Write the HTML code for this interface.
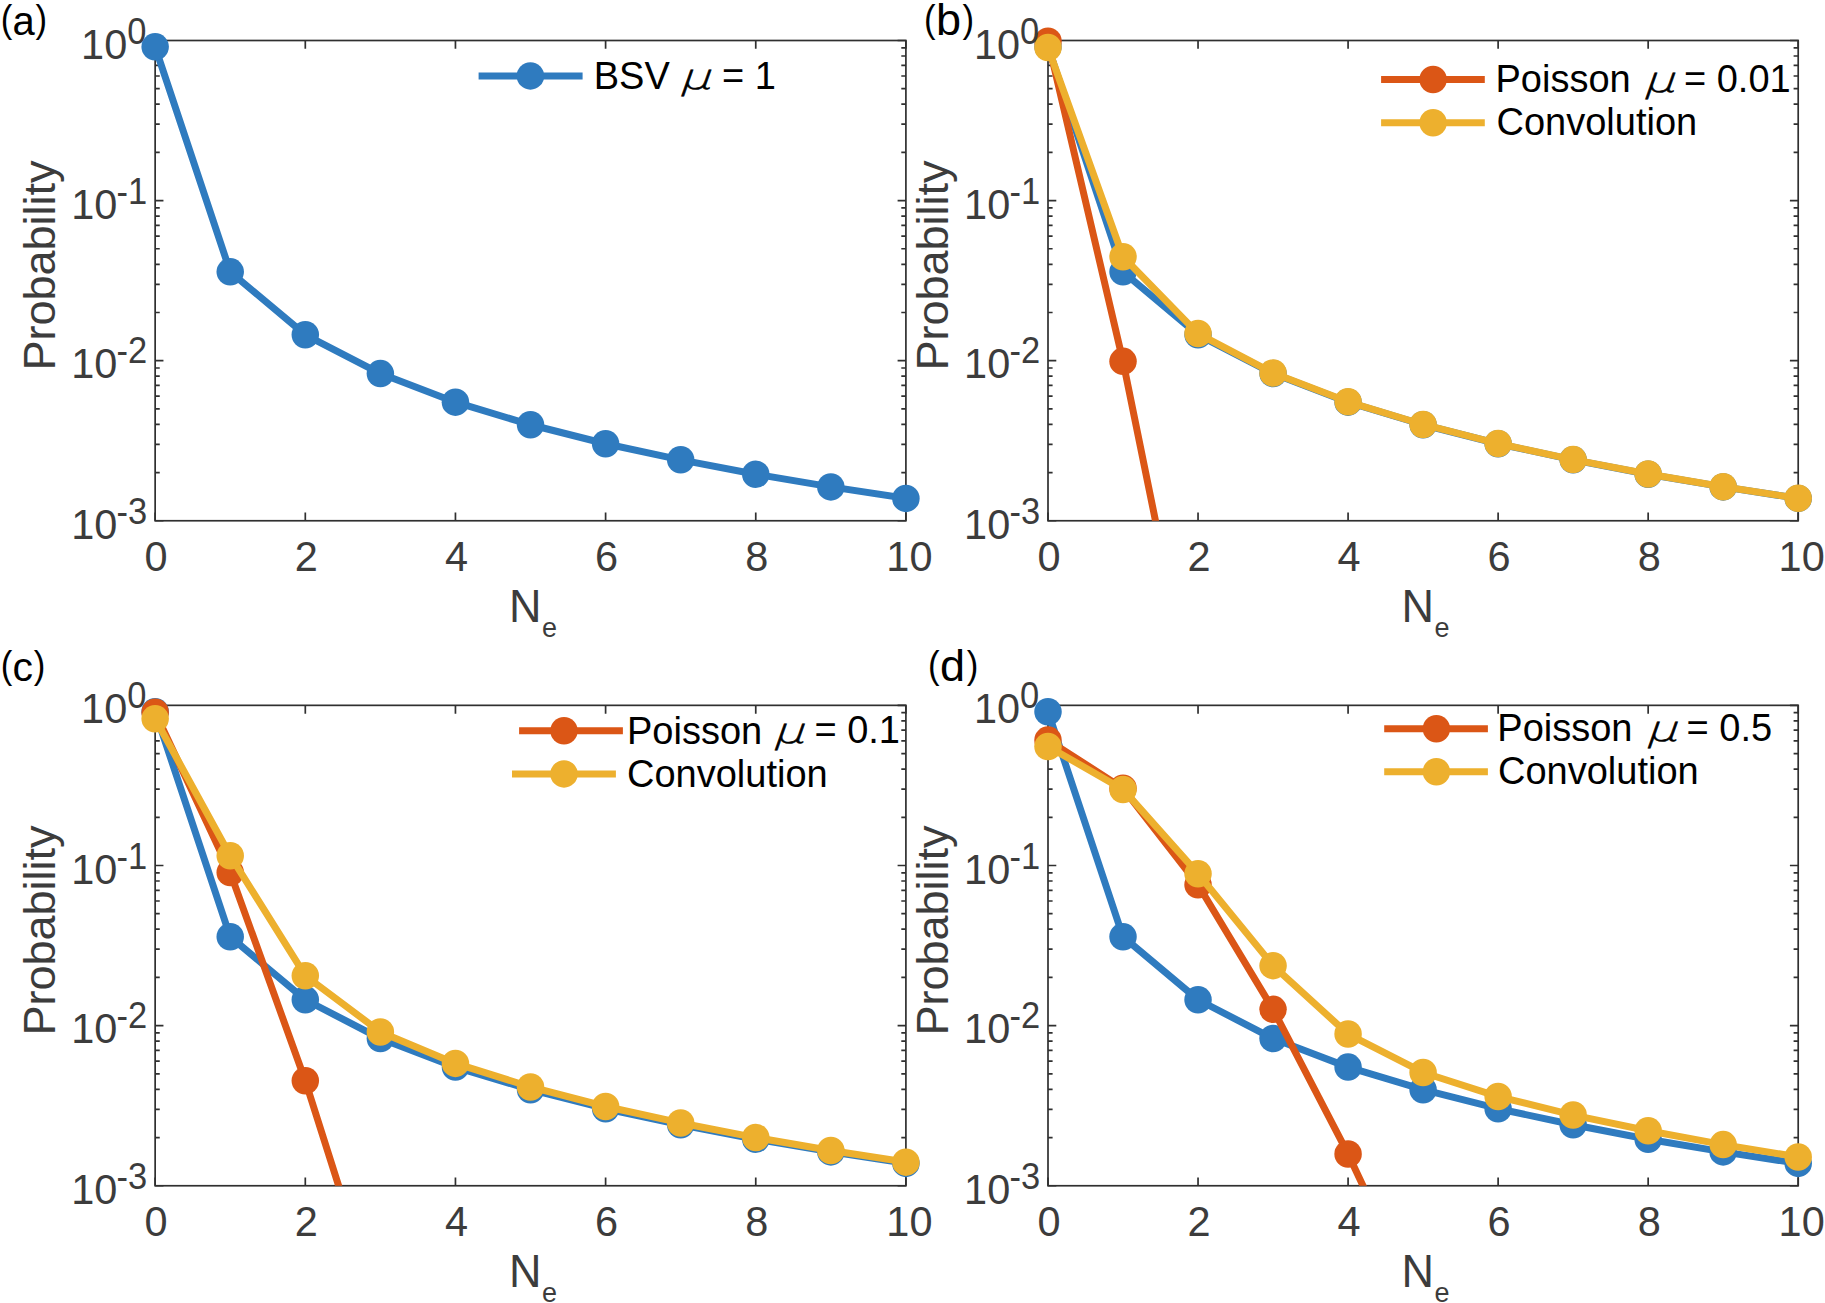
<!DOCTYPE html>
<html><head><meta charset="utf-8"><title>Figure</title>
<style>html,body{margin:0;padding:0;background:#fff}svg{display:block}</style></head>
<body>
<svg width="1825" height="1303" viewBox="0 0 1825 1303">
<rect width="1825" height="1303" fill="#fff"/>
<defs>
<clipPath id="cpa"><rect x="155.15" y="40.5" width="750.75" height="480.25"/></clipPath>
<clipPath id="cpb"><rect x="1048.0" y="40.5" width="750.2" height="480.25"/></clipPath>
<clipPath id="cpc"><rect x="155.15" y="705.35" width="750.75" height="480.4"/></clipPath>
<clipPath id="cpd"><rect x="1048.0" y="705.35" width="750.2" height="480.4"/></clipPath>
</defs>
<g stroke="#303030" stroke-width="1.7" fill="none">
<rect x="155.15" y="40.50" width="750.75" height="480.25"/>
<path d="M155.15 520.75v-8.3M155.15 40.50v8.3M305.30 520.75v-8.3M305.30 40.50v8.3M455.45 520.75v-8.3M455.45 40.50v8.3M605.60 520.75v-8.3M605.60 40.50v8.3M755.75 520.75v-8.3M755.75 40.50v8.3M905.90 520.75v-8.3M905.90 40.50v8.3M155.15 40.50h8.3M905.90 40.50h-8.3M155.15 152.39h4.6M905.90 152.39h-4.6M155.15 124.20h4.6M905.90 124.20h-4.6M155.15 104.20h4.6M905.90 104.20h-4.6M155.15 88.69h4.6M905.90 88.69h-4.6M155.15 76.01h4.6M905.90 76.01h-4.6M155.15 65.30h4.6M905.90 65.30h-4.6M155.15 56.01h4.6M905.90 56.01h-4.6M155.15 47.83h4.6M905.90 47.83h-4.6M155.15 200.58h8.3M905.90 200.58h-8.3M155.15 312.48h4.6M905.90 312.48h-4.6M155.15 284.29h4.6M905.90 284.29h-4.6M155.15 264.29h4.6M905.90 264.29h-4.6M155.15 248.77h4.6M905.90 248.77h-4.6M155.15 236.10h4.6M905.90 236.10h-4.6M155.15 225.38h4.6M905.90 225.38h-4.6M155.15 216.10h4.6M905.90 216.10h-4.6M155.15 207.91h4.6M905.90 207.91h-4.6M155.15 360.67h8.3M905.90 360.67h-8.3M155.15 472.56h4.6M905.90 472.56h-4.6M155.15 444.37h4.6M905.90 444.37h-4.6M155.15 424.37h4.6M905.90 424.37h-4.6M155.15 408.86h4.6M905.90 408.86h-4.6M155.15 396.18h4.6M905.90 396.18h-4.6M155.15 385.46h4.6M905.90 385.46h-4.6M155.15 376.18h4.6M905.90 376.18h-4.6M155.15 367.99h4.6M905.90 367.99h-4.6M155.15 520.75h8.3M905.90 520.75h-8.3"/>
</g>
<polyline clip-path="url(#cpa)" points="155.15,46.85 230.23,271.85 305.30,334.80 380.38,373.60 455.45,402.15 530.52,424.75 605.60,443.75 680.67,459.80 755.75,474.20 830.83,486.90 905.90,498.40" fill="none" stroke="#2f7bbf" stroke-width="7.0" stroke-linejoin="round"/>
<circle cx="155.15" cy="46.85" r="13.75" fill="#2f7bbf"/>
<circle cx="230.23" cy="271.85" r="13.75" fill="#2f7bbf"/>
<circle cx="305.30" cy="334.80" r="13.75" fill="#2f7bbf"/>
<circle cx="380.38" cy="373.60" r="13.75" fill="#2f7bbf"/>
<circle cx="455.45" cy="402.15" r="13.75" fill="#2f7bbf"/>
<circle cx="530.52" cy="424.75" r="13.75" fill="#2f7bbf"/>
<circle cx="605.60" cy="443.75" r="13.75" fill="#2f7bbf"/>
<circle cx="680.67" cy="459.80" r="13.75" fill="#2f7bbf"/>
<circle cx="755.75" cy="474.20" r="13.75" fill="#2f7bbf"/>
<circle cx="830.83" cy="486.90" r="13.75" fill="#2f7bbf"/>
<circle cx="905.90" cy="498.40" r="13.75" fill="#2f7bbf"/>
<g font-family="Liberation Sans, Arial, sans-serif" fill="#3c3c3c">
<text transform="translate(156.15,571.40) scale(1,1.045)" font-size="41.5" text-anchor="middle">0</text>
<text transform="translate(306.30,571.40) scale(1,1.045)" font-size="41.5" text-anchor="middle">2</text>
<text transform="translate(456.45,571.40) scale(1,1.045)" font-size="41.5" text-anchor="middle">4</text>
<text transform="translate(606.60,571.40) scale(1,1.045)" font-size="41.5" text-anchor="middle">6</text>
<text transform="translate(756.75,571.40) scale(1,1.045)" font-size="41.5" text-anchor="middle">8</text>
<text transform="translate(909.40,571.40) scale(1,1.045)" font-size="41.5" text-anchor="middle">10</text>
<text transform="translate(146.45,58.60) scale(1,1.045)" font-size="41.5" text-anchor="end">10<tspan font-size="34.5" dy="-14.45" dx="0">0</tspan></text>
<text transform="translate(147.25,219.28) scale(1,1.045)" font-size="41.5" text-anchor="end">10<tspan font-size="34.5" dy="-14.45" dx="-0.8">-1</tspan></text>
<text transform="translate(147.25,377.57) scale(1,1.045)" font-size="41.5" text-anchor="end">10<tspan font-size="34.5" dy="-13.68" dx="-0.8">-2</tspan></text>
<text transform="translate(147.25,539.45) scale(1,1.045)" font-size="41.5" text-anchor="end">10<tspan font-size="34.5" dy="-14.45" dx="-0.8">-3</tspan></text>
<text transform="translate(509.02,621.80) scale(1,1.045)" font-size="45">N<tspan font-size="27" dy="14.07" dx="0.5">e</tspan></text>
<text transform="translate(55.45,265.52) rotate(-90)" font-size="45" text-anchor="middle">Probability</text>
</g>
<g stroke="#303030" stroke-width="1.7" fill="none">
<rect x="1048.00" y="40.50" width="750.20" height="480.25"/>
<path d="M1048.00 520.75v-8.3M1048.00 40.50v8.3M1198.04 520.75v-8.3M1198.04 40.50v8.3M1348.08 520.75v-8.3M1348.08 40.50v8.3M1498.12 520.75v-8.3M1498.12 40.50v8.3M1648.16 520.75v-8.3M1648.16 40.50v8.3M1798.20 520.75v-8.3M1798.20 40.50v8.3M1048.00 40.50h8.3M1798.20 40.50h-8.3M1048.00 152.39h4.6M1798.20 152.39h-4.6M1048.00 124.20h4.6M1798.20 124.20h-4.6M1048.00 104.20h4.6M1798.20 104.20h-4.6M1048.00 88.69h4.6M1798.20 88.69h-4.6M1048.00 76.01h4.6M1798.20 76.01h-4.6M1048.00 65.30h4.6M1798.20 65.30h-4.6M1048.00 56.01h4.6M1798.20 56.01h-4.6M1048.00 47.83h4.6M1798.20 47.83h-4.6M1048.00 200.58h8.3M1798.20 200.58h-8.3M1048.00 312.48h4.6M1798.20 312.48h-4.6M1048.00 284.29h4.6M1798.20 284.29h-4.6M1048.00 264.29h4.6M1798.20 264.29h-4.6M1048.00 248.77h4.6M1798.20 248.77h-4.6M1048.00 236.10h4.6M1798.20 236.10h-4.6M1048.00 225.38h4.6M1798.20 225.38h-4.6M1048.00 216.10h4.6M1798.20 216.10h-4.6M1048.00 207.91h4.6M1798.20 207.91h-4.6M1048.00 360.67h8.3M1798.20 360.67h-8.3M1048.00 472.56h4.6M1798.20 472.56h-4.6M1048.00 444.37h4.6M1798.20 444.37h-4.6M1048.00 424.37h4.6M1798.20 424.37h-4.6M1048.00 408.86h4.6M1798.20 408.86h-4.6M1048.00 396.18h4.6M1798.20 396.18h-4.6M1048.00 385.46h4.6M1798.20 385.46h-4.6M1048.00 376.18h4.6M1798.20 376.18h-4.6M1048.00 367.99h4.6M1798.20 367.99h-4.6M1048.00 520.75h8.3M1798.20 520.75h-8.3"/>
</g>
<polyline clip-path="url(#cpb)" points="1048.00,46.85 1123.02,271.85 1198.04,334.80 1273.06,373.60 1348.08,402.15 1423.10,424.75 1498.12,443.75 1573.14,459.80 1648.16,474.20 1723.18,486.90 1798.20,498.40" fill="none" stroke="#2f7bbf" stroke-width="7.0" stroke-linejoin="round"/>
<circle cx="1048.00" cy="46.85" r="13.75" fill="#2f7bbf"/>
<circle cx="1123.02" cy="271.85" r="13.75" fill="#2f7bbf"/>
<circle cx="1198.04" cy="334.80" r="13.75" fill="#2f7bbf"/>
<circle cx="1273.06" cy="373.60" r="13.75" fill="#2f7bbf"/>
<circle cx="1348.08" cy="402.15" r="13.75" fill="#2f7bbf"/>
<circle cx="1423.10" cy="424.75" r="13.75" fill="#2f7bbf"/>
<circle cx="1498.12" cy="443.75" r="13.75" fill="#2f7bbf"/>
<circle cx="1573.14" cy="459.80" r="13.75" fill="#2f7bbf"/>
<circle cx="1648.16" cy="474.20" r="13.75" fill="#2f7bbf"/>
<circle cx="1723.18" cy="486.90" r="13.75" fill="#2f7bbf"/>
<circle cx="1798.20" cy="498.40" r="13.75" fill="#2f7bbf"/>
<polyline clip-path="url(#cpb)" points="1048.00,41.20 1123.02,361.36 1198.04,729.72 1273.06,1126.26 1348.08,1481.25 1423.10,1481.25 1498.12,1481.25 1573.14,1481.25 1648.16,1481.25 1723.18,1481.25 1798.20,1481.25" fill="none" stroke="#db5616" stroke-width="7.0" stroke-linejoin="round"/>
<circle cx="1048.00" cy="41.20" r="13.75" fill="#db5616"/>
<circle cx="1123.02" cy="361.36" r="13.75" fill="#db5616"/>
<polyline clip-path="url(#cpb)" points="1048.00,47.55 1123.02,256.79 1198.04,333.58 1273.06,373.07 1348.08,401.80 1423.10,424.48 1498.12,443.53 1573.14,459.62 1648.16,474.04 1723.18,486.76 1798.20,498.27" fill="none" stroke="#edb02e" stroke-width="7.0" stroke-linejoin="round"/>
<circle cx="1048.00" cy="47.55" r="13.75" fill="#edb02e"/>
<circle cx="1123.02" cy="256.79" r="13.75" fill="#edb02e"/>
<circle cx="1198.04" cy="333.58" r="13.75" fill="#edb02e"/>
<circle cx="1273.06" cy="373.07" r="13.75" fill="#edb02e"/>
<circle cx="1348.08" cy="401.80" r="13.75" fill="#edb02e"/>
<circle cx="1423.10" cy="424.48" r="13.75" fill="#edb02e"/>
<circle cx="1498.12" cy="443.53" r="13.75" fill="#edb02e"/>
<circle cx="1573.14" cy="459.62" r="13.75" fill="#edb02e"/>
<circle cx="1648.16" cy="474.04" r="13.75" fill="#edb02e"/>
<circle cx="1723.18" cy="486.76" r="13.75" fill="#edb02e"/>
<circle cx="1798.20" cy="498.27" r="13.75" fill="#edb02e"/>
<g font-family="Liberation Sans, Arial, sans-serif" fill="#3c3c3c">
<text transform="translate(1049.00,571.40) scale(1,1.045)" font-size="41.5" text-anchor="middle">0</text>
<text transform="translate(1199.04,571.40) scale(1,1.045)" font-size="41.5" text-anchor="middle">2</text>
<text transform="translate(1349.08,571.40) scale(1,1.045)" font-size="41.5" text-anchor="middle">4</text>
<text transform="translate(1499.12,571.40) scale(1,1.045)" font-size="41.5" text-anchor="middle">6</text>
<text transform="translate(1649.16,571.40) scale(1,1.045)" font-size="41.5" text-anchor="middle">8</text>
<text transform="translate(1801.70,571.40) scale(1,1.045)" font-size="41.5" text-anchor="middle">10</text>
<text transform="translate(1039.30,58.60) scale(1,1.045)" font-size="41.5" text-anchor="end">10<tspan font-size="34.5" dy="-14.45" dx="0">0</tspan></text>
<text transform="translate(1040.10,219.28) scale(1,1.045)" font-size="41.5" text-anchor="end">10<tspan font-size="34.5" dy="-14.45" dx="-0.8">-1</tspan></text>
<text transform="translate(1040.10,377.57) scale(1,1.045)" font-size="41.5" text-anchor="end">10<tspan font-size="34.5" dy="-13.68" dx="-0.8">-2</tspan></text>
<text transform="translate(1040.10,539.45) scale(1,1.045)" font-size="41.5" text-anchor="end">10<tspan font-size="34.5" dy="-14.45" dx="-0.8">-3</tspan></text>
<text transform="translate(1401.60,621.80) scale(1,1.045)" font-size="45">N<tspan font-size="27" dy="14.07" dx="0.5">e</tspan></text>
<text transform="translate(948.30,265.52) rotate(-90)" font-size="45" text-anchor="middle">Probability</text>
</g>
<g stroke="#303030" stroke-width="1.7" fill="none">
<rect x="155.15" y="705.35" width="750.75" height="480.40"/>
<path d="M155.15 1185.75v-8.3M155.15 705.35v8.3M305.30 1185.75v-8.3M305.30 705.35v8.3M455.45 1185.75v-8.3M455.45 705.35v8.3M605.60 1185.75v-8.3M605.60 705.35v8.3M755.75 1185.75v-8.3M755.75 705.35v8.3M905.90 1185.75v-8.3M905.90 705.35v8.3M155.15 705.35h8.3M905.90 705.35h-8.3M155.15 817.28h4.6M905.90 817.28h-4.6M155.15 789.08h4.6M905.90 789.08h-4.6M155.15 769.07h4.6M905.90 769.07h-4.6M155.15 753.55h4.6M905.90 753.55h-4.6M155.15 740.88h4.6M905.90 740.88h-4.6M155.15 730.15h4.6M905.90 730.15h-4.6M155.15 720.87h4.6M905.90 720.87h-4.6M155.15 712.68h4.6M905.90 712.68h-4.6M155.15 865.48h8.3M905.90 865.48h-8.3M155.15 977.41h4.6M905.90 977.41h-4.6M155.15 949.21h4.6M905.90 949.21h-4.6M155.15 929.21h4.6M905.90 929.21h-4.6M155.15 913.69h4.6M905.90 913.69h-4.6M155.15 901.01h4.6M905.90 901.01h-4.6M155.15 890.29h4.6M905.90 890.29h-4.6M155.15 881.00h4.6M905.90 881.00h-4.6M155.15 872.81h4.6M905.90 872.81h-4.6M155.15 1025.62h8.3M905.90 1025.62h-8.3M155.15 1137.55h4.6M905.90 1137.55h-4.6M155.15 1109.35h4.6M905.90 1109.35h-4.6M155.15 1089.34h4.6M905.90 1089.34h-4.6M155.15 1073.82h4.6M905.90 1073.82h-4.6M155.15 1061.14h4.6M905.90 1061.14h-4.6M155.15 1050.42h4.6M905.90 1050.42h-4.6M155.15 1041.14h4.6M905.90 1041.14h-4.6M155.15 1032.94h4.6M905.90 1032.94h-4.6M155.15 1185.75h8.3M905.90 1185.75h-8.3"/>
</g>
<polyline clip-path="url(#cpc)" points="155.15,711.70 230.23,936.77 305.30,999.74 380.38,1038.55 455.45,1067.11 530.52,1089.72 605.60,1108.73 680.67,1124.78 755.75,1139.19 830.83,1151.89 905.90,1163.39" fill="none" stroke="#2f7bbf" stroke-width="7.0" stroke-linejoin="round"/>
<circle cx="155.15" cy="711.70" r="13.75" fill="#2f7bbf"/>
<circle cx="230.23" cy="936.77" r="13.75" fill="#2f7bbf"/>
<circle cx="305.30" cy="999.74" r="13.75" fill="#2f7bbf"/>
<circle cx="380.38" cy="1038.55" r="13.75" fill="#2f7bbf"/>
<circle cx="455.45" cy="1067.11" r="13.75" fill="#2f7bbf"/>
<circle cx="530.52" cy="1089.72" r="13.75" fill="#2f7bbf"/>
<circle cx="605.60" cy="1108.73" r="13.75" fill="#2f7bbf"/>
<circle cx="680.67" cy="1124.78" r="13.75" fill="#2f7bbf"/>
<circle cx="755.75" cy="1139.19" r="13.75" fill="#2f7bbf"/>
<circle cx="830.83" cy="1151.89" r="13.75" fill="#2f7bbf"/>
<circle cx="905.90" cy="1163.39" r="13.75" fill="#2f7bbf"/>
<polyline clip-path="url(#cpc)" points="155.15,712.30 230.23,872.44 305.30,1080.78 380.38,1317.31 455.45,1573.86 530.52,1845.92 605.60,2130.66 680.67,2146.55 755.75,2146.55 830.83,2146.55 905.90,2146.55" fill="none" stroke="#db5616" stroke-width="7.0" stroke-linejoin="round"/>
<circle cx="155.15" cy="712.30" r="13.75" fill="#db5616"/>
<circle cx="230.23" cy="872.44" r="13.75" fill="#db5616"/>
<circle cx="305.30" cy="1080.78" r="13.75" fill="#db5616"/>
<polyline clip-path="url(#cpc)" points="155.15,718.66 230.23,855.73 305.30,975.69 380.38,1031.98 455.45,1063.40 530.52,1086.98 605.60,1106.51 680.67,1122.95 755.75,1137.57 830.83,1150.48 905.90,1162.13" fill="none" stroke="#edb02e" stroke-width="7.0" stroke-linejoin="round"/>
<circle cx="155.15" cy="718.66" r="13.75" fill="#edb02e"/>
<circle cx="230.23" cy="855.73" r="13.75" fill="#edb02e"/>
<circle cx="305.30" cy="975.69" r="13.75" fill="#edb02e"/>
<circle cx="380.38" cy="1031.98" r="13.75" fill="#edb02e"/>
<circle cx="455.45" cy="1063.40" r="13.75" fill="#edb02e"/>
<circle cx="530.52" cy="1086.98" r="13.75" fill="#edb02e"/>
<circle cx="605.60" cy="1106.51" r="13.75" fill="#edb02e"/>
<circle cx="680.67" cy="1122.95" r="13.75" fill="#edb02e"/>
<circle cx="755.75" cy="1137.57" r="13.75" fill="#edb02e"/>
<circle cx="830.83" cy="1150.48" r="13.75" fill="#edb02e"/>
<circle cx="905.90" cy="1162.13" r="13.75" fill="#edb02e"/>
<g font-family="Liberation Sans, Arial, sans-serif" fill="#3c3c3c">
<text transform="translate(156.15,1236.40) scale(1,1.045)" font-size="41.5" text-anchor="middle">0</text>
<text transform="translate(306.30,1236.40) scale(1,1.045)" font-size="41.5" text-anchor="middle">2</text>
<text transform="translate(456.45,1236.40) scale(1,1.045)" font-size="41.5" text-anchor="middle">4</text>
<text transform="translate(606.60,1236.40) scale(1,1.045)" font-size="41.5" text-anchor="middle">6</text>
<text transform="translate(756.75,1236.40) scale(1,1.045)" font-size="41.5" text-anchor="middle">8</text>
<text transform="translate(909.40,1236.40) scale(1,1.045)" font-size="41.5" text-anchor="middle">10</text>
<text transform="translate(146.45,723.45) scale(1,1.045)" font-size="41.5" text-anchor="end">10<tspan font-size="34.5" dy="-14.45" dx="0">0</tspan></text>
<text transform="translate(147.25,884.18) scale(1,1.045)" font-size="41.5" text-anchor="end">10<tspan font-size="34.5" dy="-14.45" dx="-0.8">-1</tspan></text>
<text transform="translate(147.25,1042.52) scale(1,1.045)" font-size="41.5" text-anchor="end">10<tspan font-size="34.5" dy="-13.68" dx="-0.8">-2</tspan></text>
<text transform="translate(147.25,1204.45) scale(1,1.045)" font-size="41.5" text-anchor="end">10<tspan font-size="34.5" dy="-14.45" dx="-0.8">-3</tspan></text>
<text transform="translate(509.02,1286.80) scale(1,1.045)" font-size="45">N<tspan font-size="27" dy="14.07" dx="0.5">e</tspan></text>
<text transform="translate(55.45,930.45) rotate(-90)" font-size="45" text-anchor="middle">Probability</text>
</g>
<g stroke="#303030" stroke-width="1.7" fill="none">
<rect x="1048.00" y="705.35" width="750.20" height="480.40"/>
<path d="M1048.00 1185.75v-8.3M1048.00 705.35v8.3M1198.04 1185.75v-8.3M1198.04 705.35v8.3M1348.08 1185.75v-8.3M1348.08 705.35v8.3M1498.12 1185.75v-8.3M1498.12 705.35v8.3M1648.16 1185.75v-8.3M1648.16 705.35v8.3M1798.20 1185.75v-8.3M1798.20 705.35v8.3M1048.00 705.35h8.3M1798.20 705.35h-8.3M1048.00 817.28h4.6M1798.20 817.28h-4.6M1048.00 789.08h4.6M1798.20 789.08h-4.6M1048.00 769.07h4.6M1798.20 769.07h-4.6M1048.00 753.55h4.6M1798.20 753.55h-4.6M1048.00 740.88h4.6M1798.20 740.88h-4.6M1048.00 730.15h4.6M1798.20 730.15h-4.6M1048.00 720.87h4.6M1798.20 720.87h-4.6M1048.00 712.68h4.6M1798.20 712.68h-4.6M1048.00 865.48h8.3M1798.20 865.48h-8.3M1048.00 977.41h4.6M1798.20 977.41h-4.6M1048.00 949.21h4.6M1798.20 949.21h-4.6M1048.00 929.21h4.6M1798.20 929.21h-4.6M1048.00 913.69h4.6M1798.20 913.69h-4.6M1048.00 901.01h4.6M1798.20 901.01h-4.6M1048.00 890.29h4.6M1798.20 890.29h-4.6M1048.00 881.00h4.6M1798.20 881.00h-4.6M1048.00 872.81h4.6M1798.20 872.81h-4.6M1048.00 1025.62h8.3M1798.20 1025.62h-8.3M1048.00 1137.55h4.6M1798.20 1137.55h-4.6M1048.00 1109.35h4.6M1798.20 1109.35h-4.6M1048.00 1089.34h4.6M1798.20 1089.34h-4.6M1048.00 1073.82h4.6M1798.20 1073.82h-4.6M1048.00 1061.14h4.6M1798.20 1061.14h-4.6M1048.00 1050.42h4.6M1798.20 1050.42h-4.6M1048.00 1041.14h4.6M1798.20 1041.14h-4.6M1048.00 1032.94h4.6M1798.20 1032.94h-4.6M1048.00 1185.75h8.3M1798.20 1185.75h-8.3"/>
</g>
<polyline clip-path="url(#cpd)" points="1048.00,711.70 1123.02,936.77 1198.04,999.74 1273.06,1038.55 1348.08,1067.11 1423.10,1089.72 1498.12,1108.73 1573.14,1124.78 1648.16,1139.19 1723.18,1151.89 1798.20,1163.39" fill="none" stroke="#2f7bbf" stroke-width="7.0" stroke-linejoin="round"/>
<circle cx="1048.00" cy="711.70" r="13.75" fill="#2f7bbf"/>
<circle cx="1123.02" cy="936.77" r="13.75" fill="#2f7bbf"/>
<circle cx="1198.04" cy="999.74" r="13.75" fill="#2f7bbf"/>
<circle cx="1273.06" cy="1038.55" r="13.75" fill="#2f7bbf"/>
<circle cx="1348.08" cy="1067.11" r="13.75" fill="#2f7bbf"/>
<circle cx="1423.10" cy="1089.72" r="13.75" fill="#2f7bbf"/>
<circle cx="1498.12" cy="1108.73" r="13.75" fill="#2f7bbf"/>
<circle cx="1573.14" cy="1124.78" r="13.75" fill="#2f7bbf"/>
<circle cx="1648.16" cy="1139.19" r="13.75" fill="#2f7bbf"/>
<circle cx="1723.18" cy="1151.89" r="13.75" fill="#2f7bbf"/>
<circle cx="1798.20" cy="1163.39" r="13.75" fill="#2f7bbf"/>
<polyline clip-path="url(#cpd)" points="1048.00,740.12 1123.02,788.33 1198.04,884.74 1273.06,1009.35 1348.08,1153.96 1423.10,1314.09 1498.12,1486.91 1573.14,1670.44 1648.16,1863.26 1723.18,2064.27 1798.20,2146.55" fill="none" stroke="#db5616" stroke-width="7.0" stroke-linejoin="round"/>
<circle cx="1048.00" cy="740.12" r="13.75" fill="#db5616"/>
<circle cx="1123.02" cy="788.33" r="13.75" fill="#db5616"/>
<circle cx="1198.04" cy="884.74" r="13.75" fill="#db5616"/>
<circle cx="1273.06" cy="1009.35" r="13.75" fill="#db5616"/>
<circle cx="1348.08" cy="1153.96" r="13.75" fill="#db5616"/>
<polyline clip-path="url(#cpd)" points="1048.00,746.47 1123.02,789.42 1198.04,873.68 1273.06,965.64 1348.08,1034.09 1423.10,1072.49 1498.12,1096.56 1573.14,1115.06 1648.16,1130.80 1723.18,1144.60 1798.20,1156.91" fill="none" stroke="#edb02e" stroke-width="7.0" stroke-linejoin="round"/>
<circle cx="1048.00" cy="746.47" r="13.75" fill="#edb02e"/>
<circle cx="1123.02" cy="789.42" r="13.75" fill="#edb02e"/>
<circle cx="1198.04" cy="873.68" r="13.75" fill="#edb02e"/>
<circle cx="1273.06" cy="965.64" r="13.75" fill="#edb02e"/>
<circle cx="1348.08" cy="1034.09" r="13.75" fill="#edb02e"/>
<circle cx="1423.10" cy="1072.49" r="13.75" fill="#edb02e"/>
<circle cx="1498.12" cy="1096.56" r="13.75" fill="#edb02e"/>
<circle cx="1573.14" cy="1115.06" r="13.75" fill="#edb02e"/>
<circle cx="1648.16" cy="1130.80" r="13.75" fill="#edb02e"/>
<circle cx="1723.18" cy="1144.60" r="13.75" fill="#edb02e"/>
<circle cx="1798.20" cy="1156.91" r="13.75" fill="#edb02e"/>
<g font-family="Liberation Sans, Arial, sans-serif" fill="#3c3c3c">
<text transform="translate(1049.00,1236.40) scale(1,1.045)" font-size="41.5" text-anchor="middle">0</text>
<text transform="translate(1199.04,1236.40) scale(1,1.045)" font-size="41.5" text-anchor="middle">2</text>
<text transform="translate(1349.08,1236.40) scale(1,1.045)" font-size="41.5" text-anchor="middle">4</text>
<text transform="translate(1499.12,1236.40) scale(1,1.045)" font-size="41.5" text-anchor="middle">6</text>
<text transform="translate(1649.16,1236.40) scale(1,1.045)" font-size="41.5" text-anchor="middle">8</text>
<text transform="translate(1801.70,1236.40) scale(1,1.045)" font-size="41.5" text-anchor="middle">10</text>
<text transform="translate(1039.30,723.45) scale(1,1.045)" font-size="41.5" text-anchor="end">10<tspan font-size="34.5" dy="-14.45" dx="0">0</tspan></text>
<text transform="translate(1040.10,884.18) scale(1,1.045)" font-size="41.5" text-anchor="end">10<tspan font-size="34.5" dy="-14.45" dx="-0.8">-1</tspan></text>
<text transform="translate(1040.10,1042.52) scale(1,1.045)" font-size="41.5" text-anchor="end">10<tspan font-size="34.5" dy="-13.68" dx="-0.8">-2</tspan></text>
<text transform="translate(1040.10,1204.45) scale(1,1.045)" font-size="41.5" text-anchor="end">10<tspan font-size="34.5" dy="-14.45" dx="-0.8">-3</tspan></text>
<text transform="translate(1401.60,1286.80) scale(1,1.045)" font-size="45">N<tspan font-size="27" dy="14.07" dx="0.5">e</tspan></text>
<text transform="translate(948.30,930.45) rotate(-90)" font-size="45" text-anchor="middle">Probability</text>
</g>
<g font-family="Liberation Sans, Arial, sans-serif" fill="#000">
<text transform="translate(0.69,31.70) scale(0.88,1)" font-size="39.5">(</text>
<text transform="translate(12.55,34.90) scale(1,1)" font-size="40">a</text>
<text transform="translate(35.50,31.70) scale(0.88,1)" font-size="39.5">)</text>
<text transform="translate(924.04,31.70) scale(0.88,1)" font-size="39.5">(</text>
<text transform="translate(936.00,34.90) scale(1,1)" font-size="45">b</text>
<text transform="translate(962.60,31.70) scale(0.88,1)" font-size="39.5">)</text>
<text transform="translate(0.69,677.80) scale(0.88,1)" font-size="39.5">(</text>
<text transform="translate(12.51,681.00) scale(1,1)" font-size="41">c</text>
<text transform="translate(33.80,677.80) scale(0.88,1)" font-size="39.5">)</text>
<text transform="translate(927.94,677.80) scale(0.88,1)" font-size="39.5">(</text>
<text transform="translate(940.11,681.00) scale(1,1)" font-size="45">d</text>
<text transform="translate(966.80,677.80) scale(0.88,1)" font-size="39.5">)</text>
</g>
<g font-family="Liberation Sans, Arial, sans-serif" fill="#000" font-size="38">
<line x1="478.60" y1="75.90" x2="582.60" y2="75.90" stroke="#2f7bbf" stroke-width="7.0"/>
<circle cx="530.40" cy="75.90" r="13.75" fill="#2f7bbf"/>
<text transform="translate(593.70,88.60) scale(1,1.02)">BSV</text>
<text transform="translate(678.70,88.60) scale(1.45,1.04)" font-family="DejaVu Sans Light, DejaVu Sans, sans-serif" font-weight="200" font-style="oblique" font-size="34" stroke="#000" stroke-width="0.5">&#x3BC;</text>
<text transform="translate(722.10,88.60) scale(1,1.02)">= 1</text>
<line x1="1381.10" y1="79.50" x2="1484.80" y2="79.50" stroke="#db5616" stroke-width="7.0"/>
<circle cx="1433.10" cy="79.50" r="13.75" fill="#db5616"/>
<line x1="1381.10" y1="122.80" x2="1484.80" y2="122.80" stroke="#edb02e" stroke-width="7.0"/>
<circle cx="1433.10" cy="122.80" r="13.75" fill="#edb02e"/>
<text transform="translate(1495.50,92.20) scale(1,1.02)">Poisson</text>
<text transform="translate(1642.70,92.20) scale(1.45,1.04)" font-family="DejaVu Sans Light, DejaVu Sans, sans-serif" font-weight="200" font-style="oblique" font-size="34" stroke="#000" stroke-width="0.5">&#x3BC;</text>
<text transform="translate(1684.00,92.20) scale(1,1.02)">= 0.01</text>
<text transform="translate(1496.50,134.80) scale(1,1.02)">Convolution</text>
<line x1="519.10" y1="730.80" x2="622.90" y2="730.80" stroke="#db5616" stroke-width="7.0"/>
<circle cx="564.00" cy="730.80" r="13.75" fill="#db5616"/>
<line x1="512.00" y1="773.90" x2="615.90" y2="773.90" stroke="#edb02e" stroke-width="7.0"/>
<circle cx="564.00" cy="773.90" r="13.75" fill="#edb02e"/>
<text transform="translate(627.00,743.80) scale(1,1.02)">Poisson</text>
<text transform="translate(772.30,743.30) scale(1.45,1.04)" font-family="DejaVu Sans Light, DejaVu Sans, sans-serif" font-weight="200" font-style="oblique" font-size="34" stroke="#000" stroke-width="0.5">&#x3BC;</text>
<text transform="translate(814.40,743.30) scale(1,1.02)">= 0.1</text>
<text transform="translate(627.00,786.60) scale(1,1.02)">Convolution</text>
<line x1="1384.20" y1="728.80" x2="1487.90" y2="728.80" stroke="#db5616" stroke-width="7.0"/>
<circle cx="1436.40" cy="728.80" r="13.75" fill="#db5616"/>
<line x1="1384.20" y1="771.80" x2="1487.90" y2="771.80" stroke="#edb02e" stroke-width="7.0"/>
<circle cx="1436.40" cy="771.80" r="13.75" fill="#edb02e"/>
<text transform="translate(1497.30,740.80) scale(1,1.02)">Poisson</text>
<text transform="translate(1645.20,740.80) scale(1.45,1.04)" font-family="DejaVu Sans Light, DejaVu Sans, sans-serif" font-weight="200" font-style="oblique" font-size="34" stroke="#000" stroke-width="0.5">&#x3BC;</text>
<text transform="translate(1686.60,740.80) scale(1,1.02)">= 0.5</text>
<text transform="translate(1498.00,784.10) scale(1,1.02)">Convolution</text>
</g>
</svg>
</body></html>
